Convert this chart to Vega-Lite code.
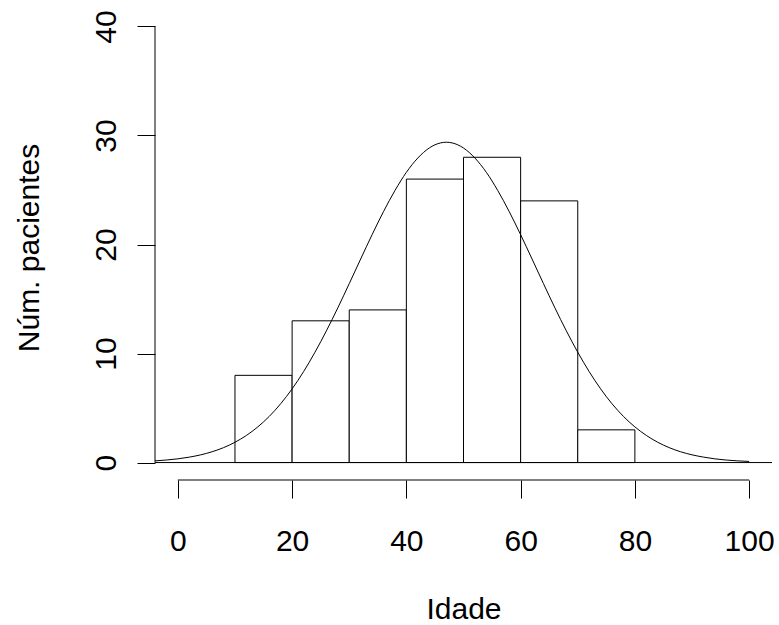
{
  "$schema": "https://vega.github.io/schema/vega-lite/v6.json",
  "width": 617,
  "height": 471,
  "autosize": {"type": "none"},
  "padding": {"left": 155, "top": 9, "right": 7, "bottom": 145},
  "background": "white",
  "config": {"view": {"stroke": null}, "font": "Liberation Sans"},
  "datasets": {
    "bars": [
      {"bin_start": 10, "bin_end": 20, "count": 8},
      {"bin_start": 20, "bin_end": 30, "count": 13},
      {"bin_start": 30, "bin_end": 40, "count": 14},
      {"bin_start": 40, "bin_end": 50, "count": 26},
      {"bin_start": 50, "bin_end": 60, "count": 28},
      {"bin_start": 60, "bin_end": 70, "count": 24},
      {"bin_start": 70, "bin_end": 80, "count": 3}
    ],
    "curve": [
      {"age": -4, "density": 0.155}, {"age": -2, "density": 0.232}, {"age": 0, "density": 0.342},
      {"age": 2, "density": 0.496}, {"age": 4, "density": 0.707}, {"age": 6, "density": 0.992},
      {"age": 8, "density": 1.369}, {"age": 10, "density": 1.861}, {"age": 12, "density": 2.487},
      {"age": 14, "density": 3.273}, {"age": 16, "density": 4.234}, {"age": 18, "density": 5.394},
      {"age": 20, "density": 6.757}, {"age": 22, "density": 8.335}, {"age": 24, "density": 10.116},
      {"age": 26, "density": 12.078}, {"age": 28, "density": 14.19}, {"age": 30, "density": 16.41},
      {"age": 32, "density": 18.67}, {"age": 34, "density": 20.9}, {"age": 36, "density": 23.02},
      {"age": 38, "density": 24.95}, {"age": 40, "density": 26.62}, {"age": 42, "density": 27.93},
      {"age": 44, "density": 28.85}, {"age": 46, "density": 29.32}, {"age": 47, "density": 29.38},
      {"age": 48, "density": 29.32}, {"age": 50, "density": 28.85}, {"age": 52, "density": 27.93},
      {"age": 54, "density": 26.62}, {"age": 56, "density": 24.95}, {"age": 58, "density": 23.02},
      {"age": 60, "density": 20.9}, {"age": 62, "density": 18.67}, {"age": 64, "density": 16.41},
      {"age": 66, "density": 14.19}, {"age": 68, "density": 12.08}, {"age": 70, "density": 10.12},
      {"age": 72, "density": 8.34}, {"age": 74, "density": 6.76}, {"age": 76, "density": 5.39},
      {"age": 78, "density": 4.23}, {"age": 80, "density": 3.27}, {"age": 82, "density": 2.49},
      {"age": 84, "density": 1.86}, {"age": 86, "density": 1.37}, {"age": 88, "density": 0.99},
      {"age": 90, "density": 0.71}, {"age": 92, "density": 0.5}, {"age": 94, "density": 0.34},
      {"age": 96, "density": 0.23}, {"age": 98, "density": 0.155}, {"age": 100, "density": 0.102}
    ],
    "xline": [{"from": 0, "to": 100, "level": -1.6}],
    "yline": [{"from": 0, "to": 40, "pos": -4}],
    "base": [{"from": -4, "to": 104, "level": 0}]
  },
  "layer": [
    {
      "data": {"name": "bars"},
      "mark": {"type": "rect", "fill": "white", "stroke": "black", "strokeWidth": 1},
      "encoding": {
        "x": {
          "field": "bin_start", "type": "quantitative",
          "scale": {"domain": [-4, 104], "nice": false, "zero": false},
          "axis": {
            "values": [0, 20, 40, 60, 80, 100], "domain": false, "grid": false,
            "tickSize": 18, "tickColor": "black", "tickWidth": 1,
            "labelFont": "Liberation Sans", "labelFontSize": 30, "labelColor": "black",
            "labelBaseline": "alphabetic", "labelAlign": "center", "labelPadding": 52,
            "labelFlush": false, "labelOverlap": false,
            "title": "Idade", "titleFont": "Liberation Sans", "titleFontSize": 30, "titleFontWeight": "normal",
            "titleColor": "black", "titleX": 308.5, "titleY": 138.6, "titleBaseline": "alphabetic", "titleAlign": "center"
          }
        },
        "x2": {"field": "bin_end"},
        "y": {
          "field": "count", "type": "quantitative",
          "scale": {"domain": [-1.6, 41.6], "nice": false, "zero": false},
          "axis": {
            "values": [0, 10, 20, 30, 40], "domain": false, "grid": false,
            "tickSize": 18, "tickColor": "black", "tickWidth": 1,
            "labelFont": "Liberation Sans", "labelFontSize": 30, "labelColor": "black",
            "labelAngle": -90, "labelAlign": "center", "labelBaseline": "alphabetic", "labelPadding": 22,
            "labelFlush": false, "labelOverlap": false,
            "title": "Núm. pacientes", "titleFont": "Liberation Sans", "titleFontSize": 30, "titleFontWeight": "normal",
            "titleColor": "black", "titleAngle": -90, "titleX": -117, "titleY": 238.5,
            "titleBaseline": "alphabetic", "titleAlign": "center"
          }
        },
        "y2": {"datum": 0}
      }
    },
    {
      "data": {"name": "base"},
      "mark": {"type": "rule", "color": "black", "strokeWidth": 1},
      "encoding": {
        "x": {"field": "from", "type": "quantitative", "scale": {"domain": [-4, 104], "nice": false, "zero": false}},
        "x2": {"field": "to"},
        "y": {"field": "level", "type": "quantitative", "scale": {"domain": [-1.6, 41.6], "nice": false, "zero": false}}
      }
    },
    {
      "data": {"name": "curve"},
      "mark": {"type": "line", "color": "black", "strokeWidth": 1, "interpolate": "monotone"},
      "encoding": {
        "x": {"field": "age", "type": "quantitative", "scale": {"domain": [-4, 104], "nice": false, "zero": false}},
        "y": {"field": "density", "type": "quantitative", "scale": {"domain": [-1.6, 41.6], "nice": false, "zero": false}}
      }
    },
    {
      "data": {"name": "xline"},
      "mark": {"type": "rule", "color": "black", "strokeWidth": 1},
      "encoding": {
        "x": {"field": "from", "type": "quantitative", "scale": {"domain": [-4, 104], "nice": false, "zero": false}},
        "x2": {"field": "to"},
        "y": {"field": "level", "type": "quantitative", "scale": {"domain": [-1.6, 41.6], "nice": false, "zero": false}}
      }
    },
    {
      "data": {"name": "yline"},
      "mark": {"type": "rule", "color": "black", "strokeWidth": 1},
      "encoding": {
        "x": {"field": "pos", "type": "quantitative", "scale": {"domain": [-4, 104], "nice": false, "zero": false}},
        "y": {"field": "from", "type": "quantitative", "scale": {"domain": [-1.6, 41.6], "nice": false, "zero": false}},
        "y2": {"field": "to"}
      }
    }
  ]
}
